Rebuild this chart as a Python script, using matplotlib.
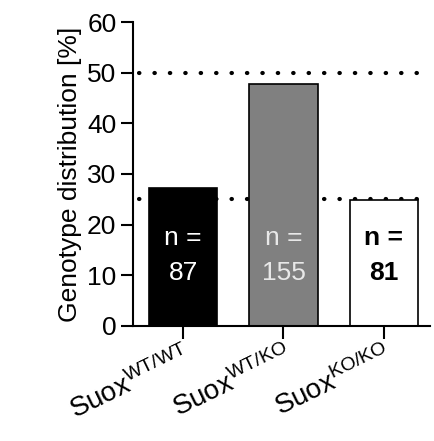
import numpy as np
import matplotlib.pyplot as plt

plt.rcParams['font.family'] = ['Liberation Sans', 'DejaVu Sans']
plt.rcParams['mathtext.fontset'] = 'custom'
plt.rcParams['mathtext.rm'] = 'Liberation Sans'

# data
genotypes = ['WT/WT', 'WT/KO', 'KO/KO']
percent = [27.2, 47.8, 24.9]
counts = [87, 155, 81]
expected = [50, 25]
bar_colors = ['#000000', '#808080', '#ffffff']
text_colors = ['#ffffff', '#e8e8e8', '#000000']

fig = plt.figure(figsize=(4.35, 4.41), dpi=100)
ax = fig.add_axes([0.306, 0.261, 0.682, 0.689])

x = np.arange(len(genotypes))
for lvl in expected:
    ax.axhline(lvl, xmin=0.02, xmax=0.985, color='black', linestyle=(0, (0.1, 3.6)),
               linewidth=3.0, dash_capstyle='round', zorder=1)
ax.bar(x, percent, width=0.68, color=bar_colors, edgecolor='black',
       linewidth=1.2, zorder=2)

for i in range(len(x)):
    ax.text(x[i], 17.4, 'n =', ha='center', va='center', fontsize=19,
            color=text_colors[i], fontweight='bold' if i == 2 else 'normal', zorder=3)
    ax.text(x[i], 10.4, str(counts[i]), ha='center', va='center', fontsize=19,
            color=text_colors[i], fontweight='bold' if i == 2 else 'normal', zorder=3)

ax.set_xlim(-0.5, 2.46)
ax.set_ylim(0, 60)
ax.set_yticks(np.arange(0, 61, 10))
ax.set_xticks(x)
labels = [r'$\mathregular{Suox^{%s}}$' % g for g in genotypes]
ax.set_xticklabels(labels, rotation=26, ha='right', rotation_mode='anchor',
                   fontsize=20)
ax.tick_params(axis='y', labelsize=19, length=9, width=1.5, pad=3)
ax.tick_params(axis='x', length=9, width=1.5, pad=2)
ax.spines['top'].set_visible(False)
ax.spines['right'].set_visible(False)
ax.spines['left'].set_linewidth(1.5)
ax.spines['bottom'].set_linewidth(1.5)
ax.set_ylabel('Genotype distribution [%]', fontsize=19, labelpad=4)

plt.savefig('out.png', dpi=100)
